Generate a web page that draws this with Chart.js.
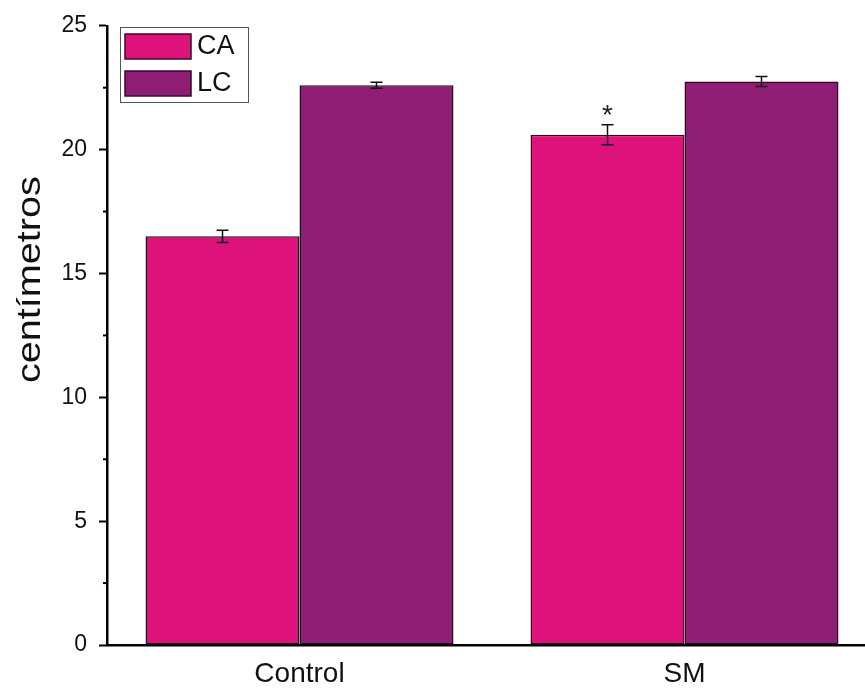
<!DOCTYPE html>
<html>
<head>
<meta charset="utf-8">
<script src="https://cdn.jsdelivr.net/npm/chart.js@4/dist/chart.umd.min.js"></script>
<style>
  html, body { margin: 0; padding: 0; background: #fff; overflow: hidden; }
  #wrap { width: 865px; height: 690px; overflow: hidden; }
</style>
</head>
<body>
<div id="wrap"><canvas id="chart" width="877" height="690"></canvas></div>
<script>
const categories = ['Control', 'SM'];
const caValues = [16.5, 20.6];
const caErrors = [0.25, 0.4];
const lcValues = [22.6, 22.75];
const lcErrors = [0.12, 0.2];
const marks = ['', '*'];   // significance mark over CA bars
const yTicks = [0, 5, 10, 15, 20, 25];
const yTitle = 'centímetros';

const FONT = '"Liberation Sans", Arial, sans-serif';

// error bars, asterisk, minor ticks, axis title and the in-plot legend
const extras = {
  id: 'extras',
  afterDatasetsDraw(chart) {
    const { ctx } = chart;
    const y = chart.scales.y;
    const errs = [caErrors, lcErrors];
    ctx.save();
    ctx.strokeStyle = '#111';
    ctx.lineWidth = 1.5;
    chart.data.datasets.forEach((ds, di) => {
      const meta = chart.getDatasetMeta(di);
      meta.data.forEach((bar, i) => {
        const v = ds.data[i], e = errs[di][i];
        const top = y.getPixelForValue(v + e), bot = y.getPixelForValue(v - e);
        const x = bar.x;
        ctx.beginPath();
        ctx.moveTo(x, top); ctx.lineTo(x, bot);
        ctx.moveTo(x - 6, top); ctx.lineTo(x + 6, top);
        ctx.moveTo(x - 6, bot); ctx.lineTo(x + 6, bot);
        ctx.stroke();
        if (di === 0 && marks[i]) {
          ctx.fillStyle = '#222';
          ctx.font = '28px ' + FONT;
          ctx.textAlign = 'center';
          ctx.textBaseline = 'alphabetic';
          ctx.fillText(marks[i], x, top - 1);
        }
      });
    });

    // minor ticks halfway between majors
    const xAxis = chart.chartArea.left;
    ctx.lineWidth = 2;
    ctx.strokeStyle = '#000';
    for (let i = 0; i < yTicks.length - 1; i++) {
      const py = y.getPixelForValue((yTicks[i] + yTicks[i + 1]) / 2);
      ctx.beginPath();
      ctx.moveTo(xAxis - 4, py); ctx.lineTo(xAxis, py);
      ctx.stroke();
    }

    // y title, sits a bit above the middle and is stretched along its length
    ctx.save();
    ctx.translate(31, y.top + (y.bottom - y.top) * 0.41);
    ctx.rotate(-Math.PI / 2);
    ctx.scale(1.2, 1);
    ctx.fillStyle = '#111';
    ctx.font = '33px ' + FONT;
    ctx.textAlign = 'center';
    ctx.textBaseline = 'middle';
    ctx.fillText(yTitle, 0, 0);
    ctx.restore();

    // legend box
    const lx = 120, ly = 27, lw = 128, lh = 75;
    ctx.fillStyle = '#fff';
    ctx.fillRect(lx, ly, lw, lh);
    ctx.strokeStyle = '#555';
    ctx.lineWidth = 1;
    ctx.strokeRect(lx + 0.5, ly + 0.5, lw, lh);
    chart.data.datasets.forEach((ds, di) => {
      const ry = ly + 7 + di * 37;
      ctx.fillStyle = ds.backgroundColor;
      ctx.fillRect(lx + 5, ry, 66, 25);
      ctx.strokeStyle = '#3a0a2a';
      ctx.lineWidth = 1.5;
      ctx.strokeRect(lx + 5, ry, 66, 25);
      ctx.fillStyle = '#111';
      ctx.font = '27px ' + FONT;
      ctx.textAlign = 'left';
      ctx.textBaseline = 'middle';
      ctx.fillText(ds.label, lx + 77, ry + 13);
    });
    ctx.restore();
  }
};

new Chart(document.getElementById('chart'), {
  type: 'bar',
  data: {
    labels: categories,
    datasets: [
      { label: 'CA', data: caValues, backgroundColor: '#DD137B', borderColor: '#2a0a1e', borderWidth: 1.5, borderSkipped: false },
      { label: 'LC', data: lcValues, backgroundColor: '#8E1D74', borderColor: '#2a0a1e', borderWidth: 1.5, borderSkipped: false }
    ]
  },
  options: {
    responsive: false,
    animation: false,
    layout: { padding: { top: 24, right: 0, left: 0, bottom: 0 } },
    categoryPercentage: 0.8,
    barPercentage: 1.0,
    plugins: { legend: { display: false }, tooltip: { enabled: false } },
    scales: {
      x: {
        grid: { display: false, drawTicks: false },
        border: { color: '#000', width: 2.5 },
        ticks: { color: '#111', font: { family: FONT, size: 28 }, padding: 12 },
        afterFit: s => { s.height = 45; }
      },
      y: {
        min: 0, max: 25,
        afterBuildTicks: s => { s.ticks = yTicks.map(v => ({ value: v })); },
        grid: { drawOnChartArea: false, tickLength: 8, tickWidth: 2, tickColor: '#000' },
        border: { color: '#000', width: 2.5 },
        ticks: { color: '#111', font: { family: FONT, size: 23 }, padding: 12 },
        afterFit: s => { s.width = 107; }
      }
    }
  },
  plugins: [extras]
});
</script>
</body>
</html>
